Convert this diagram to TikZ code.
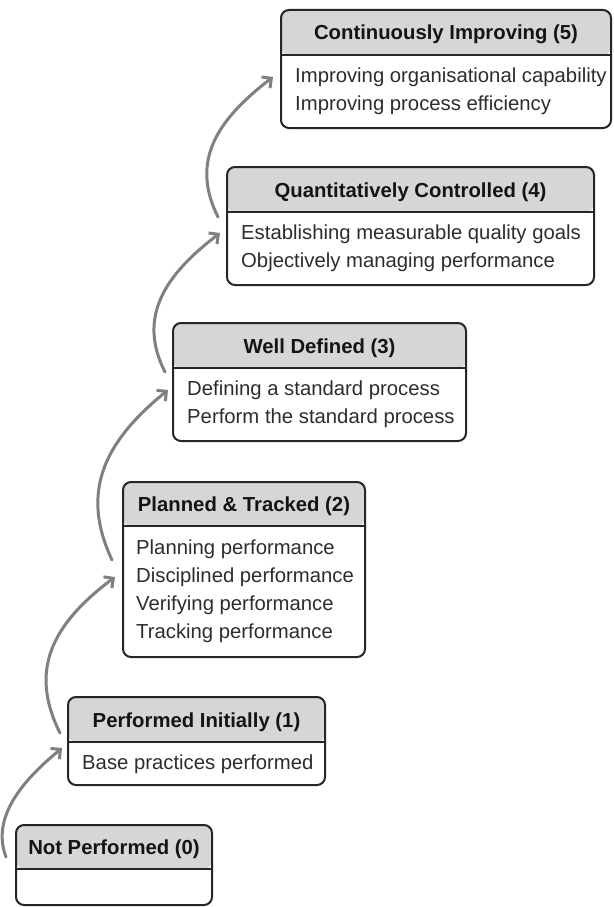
\documentclass[tikz,border=0pt]{standalone}
\usepackage{fontspec}
\setmainfont{Liberation Sans}
\usetikzlibrary{arrows.meta}

\definecolor{headgray}{RGB}{214,214,214}
\definecolor{framegray}{RGB}{38,38,38}
\definecolor{arrowgray}{RGB}{128,128,128}
\definecolor{headink}{RGB}{20,20,20}
\definecolor{bodyink}{RGB}{45,45,45}

\tikzset{
  stagebox/.style={draw=framegray, line width=2pt, rounded corners=8pt, fill=white,
    anchor=north west, inner sep=0pt, outer sep=0pt,
    path picture={
      \fill[headgray] (path picture bounding box.north west) rectangle
        ([shift={(0,#1)}]path picture bounding box.north east);
      \draw[framegray, line width=2pt]
        ([shift={(0,#1)}]path picture bounding box.north west) --
        ([shift={(0,#1)}]path picture bounding box.north east);}},
  stagebox/.default=45,
  headtext/.style={anchor=base, inner sep=0pt, text=headink,
    font=\fontsize{20.3}{24}\selectfont\bfseries},
  bodytext/.style={anchor=base west, inner sep=0pt, text=bodyink,
    font=\fontsize{20.3}{24}\selectfont},
  flow/.style={draw=arrowgray, line width=3pt, line cap=round,
    -{Straight Barb[length=7pt,width=14pt]}},
}

\begin{document}
\begin{tikzpicture}[x=1pt, y=-1pt]
  \useasboundingbox (0,0) rectangle (613,907);
  \fill[white] (0,0) rectangle (613,907);

  % level boxes
  \node[stagebox, minimum width=330pt, minimum height=118pt] (b5) at (281,10) {};
  \node[stagebox, minimum width=367pt, minimum height=118pt] (b4) at (227,167) {};
  \node[stagebox, minimum width=293pt, minimum height=118pt] (b3) at (173,323) {};
  \node[stagebox=44, minimum width=242pt, minimum height=175pt] (b2) at (123,482) {};
  \node[stagebox, minimum width=257pt, minimum height=88pt] (b1) at (68,697) {};
  \node[stagebox=44, minimum width=196pt, minimum height=80pt] (b0) at (16,825) {};

  % headers
  \node[headtext] (h5) at ([shift={(0,30)}]b5.north) {Continuously Improving (5)};
  \node[headtext] (h4) at ([shift={(0,30)}]b4.north) {Quantitatively Controlled (4)};
  \node[headtext] (h3) at ([shift={(0,30)}]b3.north) {Well Defined (3)};
  \node[headtext] (h2) at ([shift={(0,29)}]b2.north) {Planned \& Tracked (2)};
  \node[headtext] (h1) at ([shift={(0,30)}]b1.north) {Performed Initially (1)};
  \node[headtext] (h0) at ([shift={(0,29)}]b0.north) {Not Performed (0)};

  % practices
  \node[bodytext] (t5a) at ([shift={(14,72)}]b5.north west) {Improving organisational capability};
  \node[bodytext] (t5b) at ([shift={(14,100.3)}]b5.north west) {Improving process efficiency};

  \node[bodytext] (t4a) at ([shift={(14,72)}]b4.north west) {Establishing measurable quality goals};
  \node[bodytext] (t4b) at ([shift={(14,100.3)}]b4.north west) {Objectively managing performance};

  \node[bodytext] (t3a) at ([shift={(14,72)}]b3.north west) {Defining a standard process};
  \node[bodytext] (t3b) at ([shift={(14,100.3)}]b3.north west) {Perform the standard process};

  \node[bodytext] (t2a) at ([shift={(13,72)}]b2.north west) {Planning performance};
  \node[bodytext] (t2b) at ([shift={(13,100.3)}]b2.north west) {Disciplined performance};
  \node[bodytext] (t2c) at ([shift={(13,128.6)}]b2.north west) {Verifying performance};
  \node[bodytext] (t2d) at ([shift={(13,156.9)}]b2.north west) {Tracking performance};

  \node[bodytext] (t1a) at ([shift={(14,72)}]b1.north west) {Base practices performed};

  % climbing arrows
  \draw[flow] ([shift={(-10,32)}]b0.north west)
    .. controls +(-16,-42) and +(-35,29) .. ([shift={(-6,51)}]b1.north west);
  \draw[flow] ([shift={(-8,36)}]b1.north west)
    .. controls +(-31,-62) and +(-64,48) .. ([shift={(-8,95)}]b2.north west);
  \draw[flow] ([shift={(-11,78)}]b2.north west)
    .. controls +(-32,-68) and +(-64,52) .. ([shift={(-5,67)}]b3.north west);
  \draw[flow] ([shift={(-8,49)}]b3.north west)
    .. controls +(-28,-55) and +(-55,42) .. ([shift={(-7,66)}]b4.north west);
  \draw[flow] ([shift={(-9,50)}]b4.north west)
    .. controls +(-28,-56) and +(-56,43) .. ([shift={(-8,67)}]b5.north west);
\end{tikzpicture}
\end{document}
